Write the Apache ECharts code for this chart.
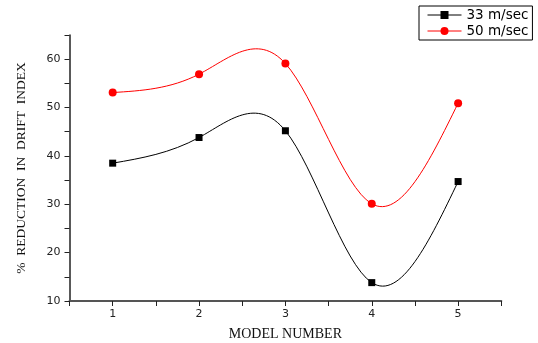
<!DOCTYPE html>
<html><head><meta charset="utf-8">
<script src="https://cdn.jsdelivr.net/npm/echarts@6/dist/echarts.min.js"></script>
<style>html,body{margin:0;padding:0;background:#fff;overflow:hidden}#c{width:538px;height:343px}</style>
</head><body><div id="c"></div>
<script>
const models = [1, 2, 3, 4, 5];
const s33 = [38.5, 43.8, 45.2, 13.8, 34.7];
const s50 = [53.1, 56.9, 59.1, 30.1, 50.9];
const names = ['33 m/sec', '50 m/sec'];
const colors = ['#000000', '#ff0000'];

// natural cubic spline second derivatives (data space), like Origin's "Spline" connector
function splineM(xs, ys) {
  const n = xs.length, M = new Array(n).fill(0);
  if (n < 3) return M;
  const a = [], b = [], c = [], d = [];
  for (let i = 1; i < n - 1; i++) {
    const h0 = xs[i] - xs[i - 1], h1 = xs[i + 1] - xs[i];
    a.push(h0); b.push(2 * (h0 + h1)); c.push(h1);
    d.push(6 * ((ys[i + 1] - ys[i]) / h1 - (ys[i] - ys[i - 1]) / h0));
  }
  const m = b.length;
  for (let i = 1; i < m; i++) {
    const w = a[i] / b[i - 1];
    b[i] -= w * c[i - 1]; d[i] -= w * d[i - 1];
  }
  const sol = new Array(m);
  sol[m - 1] = d[m - 1] / b[m - 1];
  for (let i = m - 2; i >= 0; i--) sol[i] = (d[i] - c[i] * sol[i + 1]) / b[i];
  for (let i = 0; i < m; i++) M[i + 1] = sol[i];
  return M;
}

function splineSeries(name, ys, color) {
  const M = splineM(models, ys);
  return {
    name: name, type: 'custom', silent: true, z: 2,
    data: models.map((m, i) => [m, ys[i]]),
    renderItem: function (params, api) {
      const i = params.dataIndex;
      if (i >= models.length - 1) return null;
      const x0 = models[i], x1 = models[i + 1], h = x1 - x0;
      const y0 = ys[i], y1 = ys[i + 1];
      const d0 = (y1 - y0) / h - h * (2 * M[i] + M[i + 1]) / 6;
      const d1 = (y1 - y0) / h + h * (M[i] + 2 * M[i + 1]) / 6;
      const p0 = api.coord([x0, y0]);
      const c1 = api.coord([x0 + h / 3, y0 + d0 * h / 3]);
      const c2 = api.coord([x1 - h / 3, y1 - d1 * h / 3]);
      const p1 = api.coord([x1, y1]);
      return {
        type: 'bezierCurve',
        shape: {x1: p0[0], y1: p0[1], cpx1: c1[0], cpy1: c1[1], cpx2: c2[0], cpy2: c2[1], x2: p1[0], y2: p1[1]},
        style: {stroke: color, lineWidth: 1, fill: null}
      };
    }
  };
}

const chart = echarts.init(document.getElementById('c'), null, {renderer: 'canvas', width: 538, height: 343});
const pair = arr => models.map((m, i) => [m, arr[i]]);
const axisCommon = {
  axisLine: {show: true, onZero: false, lineStyle: {color: '#222', width: 1.5}},
  axisTick: {show: true, inside: false, length: 5, lineStyle: {color: '#222', width: 1}},
  splitLine: {show: false},
  axisLabel: {color: '#222', fontFamily: 'DejaVu Sans', fontSize: 11}
};
chart.setOption({
  animation: false,
  backgroundColor: '#fff',
  grid: {left: 69.5, right: 36.7, top: 35, bottom: 42, containLabel: false, outerBoundsMode: 'none'},
  legend: {
    orient: 'vertical', left: 419, top: 6, width: 112,
    padding: [2, 4, 2, 8], itemGap: 2,
    itemWidth: 34, itemHeight: 10,
    borderColor: '#000', borderWidth: 1,
    textStyle: {fontFamily: 'DejaVu Sans', fontSize: 13.5, color: '#000'},
    data: [
      {name: names[0], lineStyle: {color: colors[0], width: 1, opacity: 1}},
      {name: names[1], lineStyle: {color: colors[1], width: 1, opacity: 1}}
    ]
  },
  xAxis: Object.assign({
    type: 'value', min: 0.5, max: 5.5, interval: 0.5,
    name: 'MODEL NUMBER', nameLocation: 'middle', nameGap: 26,
    nameTextStyle: {fontFamily: 'Liberation Serif, Times New Roman', fontSize: 14, color: '#111'}
  }, axisCommon, {
    axisLine: {show: true, onZero: false, lineStyle: {color: '#555', width: 2}},
    axisLabel: Object.assign({}, axisCommon.axisLabel, {margin: 8,
      formatter: v => (Math.abs(v - Math.round(v)) < 1e-6 ? String(Math.round(v)) : '')})
  }),
  yAxis: Object.assign({
    type: 'value', min: 10, max: 65, interval: 5,
    name: '%  REDUCTION  IN  DRIFT  INDEX', nameLocation: 'middle', nameGap: 41, nameRotate: 90,
    nameTextStyle: {fontFamily: 'Liberation Serif, Times New Roman', fontSize: 13.5, color: '#111'}
  }, axisCommon, {
    axisLabel: Object.assign({}, axisCommon.axisLabel, {margin: 9,
      formatter: v => (v % 10 === 0 ? String(v) : '')})
  }),
  series: [
    {name: names[0], type: 'line', data: pair(s33), z: 3,
     symbol: 'rect', symbolSize: 7,
     lineStyle: {color: colors[0], width: 1, opacity: 0}, itemStyle: {color: colors[0]}},
    {name: names[1], type: 'line', data: pair(s50), z: 3,
     symbol: 'circle', symbolSize: 8,
     lineStyle: {color: colors[1], width: 1, opacity: 0}, itemStyle: {color: colors[1]}},
    splineSeries(names[0], s33, colors[0]),
    splineSeries(names[1], s50, colors[1])
  ]
});
</script></body></html>
